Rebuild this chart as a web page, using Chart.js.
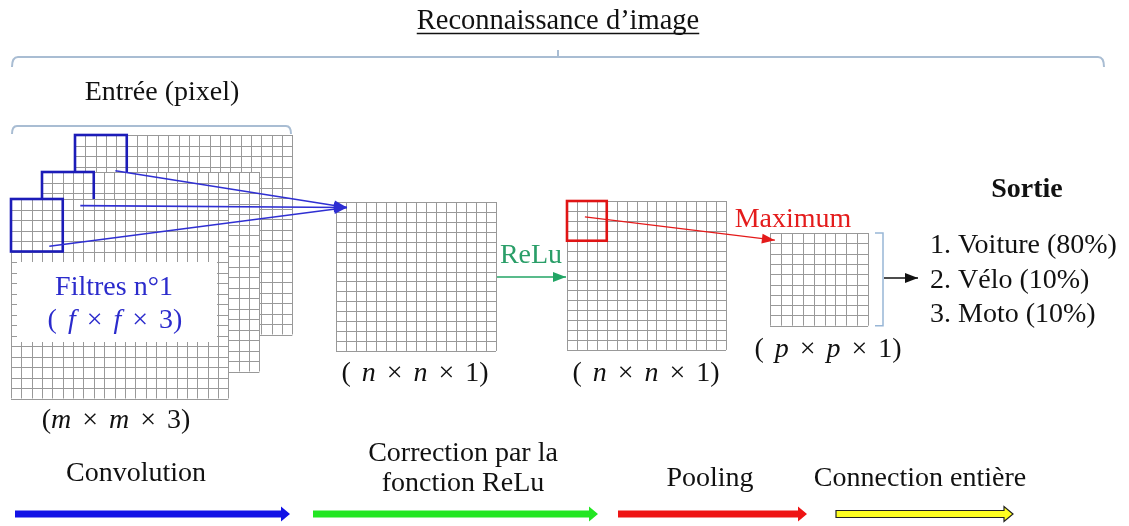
<!DOCTYPE html>
<html>
<head>
<meta charset="utf-8">
<script src="https://cdn.jsdelivr.net/npm/chart.js@4.4.1/dist/chart.umd.min.js"></script>
<style>
  html, body { margin: 0; padding: 0; background: #fff; }
  #wrap { width: 1129px; height: 526px; }
</style>
</head>
<body>
<div id="wrap"><canvas id="cnn"></canvas></div>
<script>
// --- data ---
const title = 'Reconnaissance d’image';
const inputLabel = 'Entrée (pixel)';
const filterLabel = ['Filtres n°1', '( f × f × 3)'];
const shapeLabels = ['(m × m × 3)', '( n × n × 1)', '( n × n × 1)', '( p × p × 1)'];
const gridCols = [21, 21, 21, 16, 16, 9];
const gridRows = [19, 19, 19, 15, 15, 9];
const filterCells = [5, 5, 5, 4];          // blue filters on 3 input layers, red pooling window
const stageLabels = [['Convolution'], ['Correction par la', 'fonction ReLu'], ['Pooling'], ['Connection entière']];
const outputTitle = 'Sortie';
const classNames = ['Voiture', 'Vélo', 'Moto'];
const classPct = [80, 10, 10];

// --- layout (page units, same as canvas px) ---
const W = 1129, H = 526;
const layerBox = [
  [75, 135, 10.35, 10.5],
  [42, 172, 10.35, 10.5],
  [11, 199, 10.35, 10.5],
  [336, 202, 10, 9.93],
  [567, 201, 9.94, 9.93],
  [770, 233, 10.9, 10.3]
];
const shapeLabelPos = [[116, 428], [415, 381], [646, 381], [828, 357]];
const stageArrows = [[15, 290], [313, 598], [618, 807], [836, 1013]];
const stageColors = ['#1212e6', '#22e622', '#ee1414', '#ffff22'];
const stageText = [[136, 481], [463, 461], [710, 486], [920, 486]];
const BLUE = '#2f2fd2', RED = '#e41a1a', GREEN = '#22a565', FONT = '"Liberation Serif", "Times New Roman", serif';

function cellPt(l, c, r) {
  const b = layerBox[l];
  return { x: b[0] + c * b[2], y: b[1] + r * b[3] };
}
function layerRight(l) { return layerBox[l][0] + gridCols[l] * layerBox[l][2]; }
function layerBottom(l) { return layerBox[l][1] + gridRows[l] * layerBox[l][3]; }

const blueTip = cellPt(3, 1.1, 0.55);
const connectors = [
  { from: cellPt(0, 3.9, 3.4), to: blueTip, color: BLUE, w: 1.6 },
  { from: cellPt(1, 3.7, 3.2), to: blueTip, color: BLUE, w: 1.6 },
  { from: cellPt(2, 3.7, 4.5), to: blueTip, color: BLUE, w: 1.6 },
  { from: cellPt(4, 1.8, 1.6), to: cellPt(5, 0.45, 0.7), color: RED, w: 1.3 },
  { from: { x: layerRight(3) + 1, y: 277 }, to: { x: layerBox[4][0] - 1, y: 277 }, color: GREEN, w: 1.3 },
  { from: { x: 884, y: 278 }, to: { x: 918, y: 278 }, color: '#111', w: 1.3 }
];

const diagram = {
  id: 'diagram',
  beforeDatasetsDraw(chart) {
    const ctx = chart.ctx;
    const X = v => chart.scales.x.getPixelForValue(v);
    const Y = v => chart.scales.y.getPixelForValue(v);
    ctx.save();

    // brackets
    ctx.strokeStyle = '#a9bdd3';
    ctx.lineWidth = 2;
    ctx.beginPath();
    ctx.moveTo(X(12), Y(67)); ctx.quadraticCurveTo(X(12), Y(57), X(18), Y(57));
    ctx.lineTo(X(1098), Y(57)); ctx.quadraticCurveTo(X(1104), Y(57), X(1104), Y(67));
    ctx.moveTo(X(558), Y(57)); ctx.lineTo(X(558), Y(50));
    ctx.moveTo(X(12), Y(134)); ctx.quadraticCurveTo(X(12), Y(126), X(17), Y(126));
    ctx.lineTo(X(286), Y(126)); ctx.quadraticCurveTo(X(291), Y(126), X(291), Y(134));
    ctx.stroke();
    ctx.strokeStyle = '#98b6d6';
    ctx.lineWidth = 1.5;
    ctx.beginPath();
    ctx.moveTo(X(875), Y(layerBox[5][1])); ctx.lineTo(X(883), Y(layerBox[5][1]));
    ctx.lineTo(X(883), Y(layerBottom(5))); ctx.lineTo(X(875), Y(layerBottom(5)));
    ctx.stroke();

    // grids
    gridCols.forEach((cols, l) => {
      const [x0, y0, cw, ch] = layerBox[l];
      const rows = gridRows[l];
      ctx.fillStyle = '#fff';
      ctx.fillRect(X(x0), Y(y0), cols * cw, rows * ch);
      ctx.strokeStyle = '#999';
      ctx.lineWidth = 1;
      ctx.beginPath();
      for (let i = 0; i <= cols; i++) {
        const x = Math.round(X(x0 + i * cw)) + 0.5;
        ctx.moveTo(x, Y(y0)); ctx.lineTo(x, Y(y0 + rows * ch));
      }
      for (let j = 0; j <= rows; j++) {
        const y = Math.round(Y(y0 + j * ch)) + 0.5;
        ctx.moveTo(X(x0), y); ctx.lineTo(X(x0 + cols * cw), y);
      }
      ctx.stroke();
      if (l < 3) {
        ctx.strokeStyle = '#1c1cb8';
        ctx.lineWidth = 2.6;
        ctx.strokeRect(X(x0), Y(y0), filterCells[l] * cw, filterCells[l] * ch);
      }
    });
    const rb = layerBox[4];
    ctx.strokeStyle = '#e01414';
    ctx.lineWidth = 2.6;
    ctx.strokeRect(X(rb[0]), Y(rb[1]), filterCells[3] * rb[2], filterCells[3] * rb[3]);

    // white box with filter label on the front layer
    ctx.fillStyle = '#fff';
    ctx.fillRect(X(17), Y(262), X(217) - X(17), Y(342) - Y(262));
    ctx.restore();
  },
  afterDatasetsDraw(chart) {
    const ctx = chart.ctx;
    const X = v => chart.scales.x.getPixelForValue(v);
    const Y = v => chart.scales.y.getPixelForValue(v);
    ctx.save();

    // arrow heads on connectors
    chart.data.datasets.forEach((ds, i) => {
      const pts = chart.getDatasetMeta(i).data;
      const a = pts[0], b = pts[1];
      const ang = Math.atan2(b.y - a.y, b.x - a.x);
      const L = 13, hw = 5;
      ctx.fillStyle = ds.borderColor;
      ctx.beginPath();
      ctx.moveTo(b.x, b.y);
      ctx.lineTo(b.x - L * Math.cos(ang) + hw * Math.sin(ang), b.y - L * Math.sin(ang) - hw * Math.cos(ang));
      ctx.lineTo(b.x - L * Math.cos(ang) - hw * Math.sin(ang), b.y - L * Math.sin(ang) + hw * Math.cos(ang));
      ctx.closePath();
      ctx.fill();
    });

    function text(s, x, y, opt) {
      opt = opt || {};
      ctx.font = (opt.style || '') + ' ' + (opt.size || 28) + 'px ' + FONT;
      ctx.fillStyle = opt.color || '#111';
      ctx.textAlign = opt.align || 'center';
      ctx.textBaseline = 'alphabetic';
      ctx.fillText(s, X(x), Y(y));
      return ctx.measureText(s).width;
    }
    // math labels: italic variables, wide spacing around ×
    function mathText(s, cx, y, color) {
      const runs = [];
      for (const ch of s) {
        const kind = /[a-z]/.test(ch) ? 'it' : (ch === ' ' ? 'sp' : 'rm');
        if (runs.length && runs[runs.length - 1].kind === kind && kind !== 'sp') runs[runs.length - 1].t += ch;
        else runs.push({ t: ch, kind });
      }
      let total = 0;
      runs.forEach(r => {
        ctx.font = (r.kind === 'it' ? 'italic ' : '') + '28px ' + FONT;
        r.w = r.kind === 'sp' ? 11 : ctx.measureText(r.t).width;
        total += r.w;
      });
      let x = X(cx) - total / 2;
      ctx.fillStyle = color || '#111';
      ctx.textAlign = 'left';
      runs.forEach(r => {
        if (r.kind !== 'sp') {
          ctx.font = (r.kind === 'it' ? 'italic ' : '') + '28px ' + FONT;
          ctx.fillText(r.t, x, Y(y));
        }
        x += r.w;
      });
    }

    // title with underline
    const tw = text(title, 558, 29, { size: 28.5 });
    ctx.strokeStyle = '#111';
    ctx.lineWidth = 1.4;
    ctx.beginPath();
    ctx.moveTo(X(558) - tw / 2, Y(33.5)); ctx.lineTo(X(558) + tw / 2, Y(33.5));
    ctx.stroke();

    text(inputLabel, 162, 100);
    text(filterLabel[0], 114, 295, { color: '#2b2bcc' });
    mathText(filterLabel[1], 115, 328, '#2b2bcc');
    shapeLabels.forEach((s, i) => mathText(s, shapeLabelPos[i][0], shapeLabelPos[i][1]));
    text('ReLu', 531, 263, { color: '#2a9e68' });
    text('Maximum', 793, 227, { color: '#e41c1c' });
    text(outputTitle, 1027, 197, { style: 'bold' });
    classNames.forEach((n, i) => {
      text((i + 1) + '. ' + n + ' (' + classPct[i] + '%)', 930, 253 + i * 34.5, { align: 'left' });
    });

    // stage labels and arrows
    stageLabels.forEach((lines, i) => {
      lines.forEach((ln, k) => text(ln, stageText[i][0], stageText[i][1] + k * 30));
      const [x0, x1] = stageArrows[i];
      const y = Y(514), t = 3.5, hh = 7.5, hl = 9;
      ctx.beginPath();
      ctx.moveTo(X(x0), y - t);
      ctx.lineTo(X(x1) - hl, y - t);
      ctx.lineTo(X(x1) - hl, y - hh);
      ctx.lineTo(X(x1), y);
      ctx.lineTo(X(x1) - hl, y + hh);
      ctx.lineTo(X(x1) - hl, y + t);
      ctx.lineTo(X(x0), y + t);
      ctx.closePath();
      ctx.fillStyle = stageColors[i];
      ctx.fill();
      if (i === 3) {
        ctx.strokeStyle = '#222';
        ctx.lineWidth = 1.2;
        ctx.stroke();
      }
    });
    ctx.restore();
  }
};

const chart = new Chart(document.getElementById('cnn'), {
  type: 'scatter',
  data: {
    datasets: connectors.map(c => ({
      data: [c.from, c.to],
      showLine: true,
      borderColor: c.color,
      borderWidth: c.w,
      pointRadius: 0,
      fill: false
    }))
  },
  options: {
    responsive: true,
    maintainAspectRatio: false,
    animation: false,
    events: [],
    layout: { padding: 0 },
    plugins: { legend: { display: false }, tooltip: { enabled: false } },
    scales: {
      x: { type: 'linear', min: 0, max: W, display: false },
      y: { type: 'linear', min: 0, max: H, reverse: true, display: false }
    }
  },
  plugins: [diagram]
});
</script>
</body>
</html>
